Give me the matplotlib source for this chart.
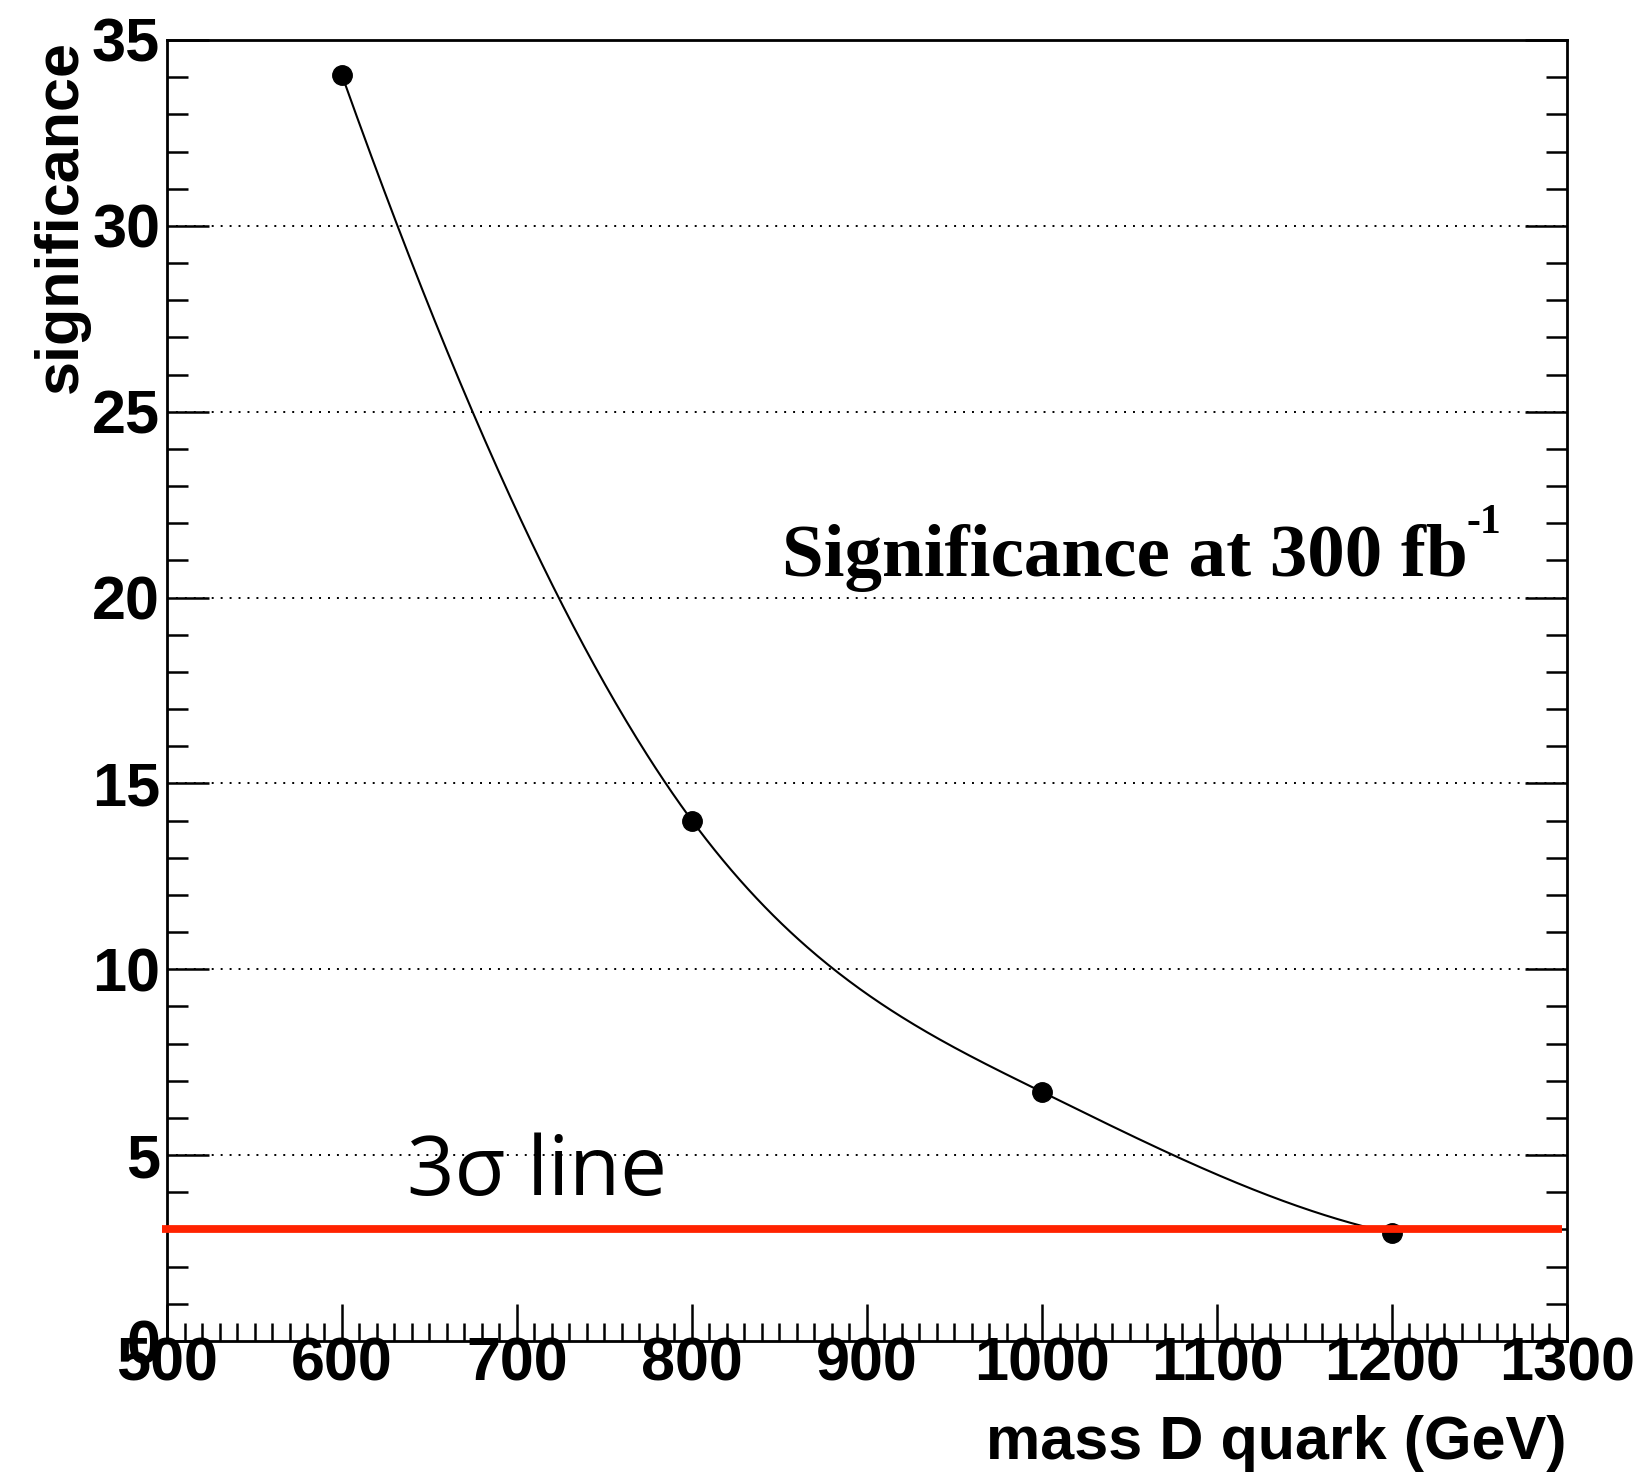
import numpy as np
import matplotlib
matplotlib.use("Agg")
import matplotlib.pyplot as plt
from matplotlib.ticker import MultipleLocator

# ---- data ----
mass = [600, 800, 1000, 1200]
significance = [34.05, 14.0, 6.7, 2.9]
sigma_level = 3.0
x_ticks = [500, 600, 700, 800, 900, 1000, 1100, 1200, 1300]
y_ticks = [0, 5, 10, 15, 20, 25, 30, 35]


def smooth_curve(x, y, n=500):
    """Clamped cubic spline; end slopes taken from the parabola through the
    three end points (how the smooth 'C' curve behaves)."""
    x = np.asarray(x, float)
    y = np.asarray(y, float)
    k = len(x)
    h = np.diff(x)
    d = np.diff(y) / h
    m_start = d[0] - (d[1] - d[0]) / (x[2] - x[0]) * h[0]
    m_end = d[-1] + (d[-1] - d[-2]) / (x[-1] - x[-3]) * h[-1]
    A = np.zeros((k, k))
    b = np.zeros(k)
    A[0, 0] = 1
    b[0] = m_start
    A[-1, -1] = 1
    b[-1] = m_end
    for i in range(1, k - 1):
        A[i, i - 1] = h[i]
        A[i, i] = 2 * (h[i - 1] + h[i])
        A[i, i + 1] = h[i - 1]
        b[i] = 3 * (h[i] * d[i - 1] + h[i - 1] * d[i])
    m = np.linalg.solve(A, b)
    xs = np.linspace(x[0], x[-1], n)
    idx = np.clip(np.searchsorted(x, xs) - 1, 0, k - 2)
    hh = h[idx]
    t = (xs - x[idx]) / hh
    h00 = 2 * t**3 - 3 * t**2 + 1
    h10 = t**3 - 2 * t**2 + t
    h01 = -2 * t**3 + 3 * t**2
    h11 = t**3 - t**2
    ys = h00 * y[idx] + h10 * hh * m[idx] + h01 * y[idx + 1] + h11 * hh * m[idx + 1]
    return xs, ys


fig = plt.figure(figsize=(16.39, 14.74), dpi=100)
ax = fig.add_axes([167 / 1639, 133 / 1474, 1400 / 1639, 1301 / 1474])

ax.set_xlim(500, 1300)
ax.set_ylim(0, 35)

# grid (horizontal dotted lines at major y ticks)
for yv in y_ticks[1:-1]:
    ax.axhline(yv, color="black", linewidth=1.4, linestyle=(0, (1, 3.6)), zorder=1)

xs, ys = smooth_curve(mass, significance)
ax.plot(xs, ys, color="black", linewidth=1.5, zorder=3)
ax.plot(mass, significance, "o", color="black", markersize=14, zorder=4)

ax.hlines(sigma_level, 497, 1297, colors="#ff2200", linewidth=5.6, zorder=5,
          clip_on=False, capstyle="butt")

# ticks
ax.set_xticks(x_ticks)
ax.set_yticks(y_ticks)
ax.xaxis.set_minor_locator(MultipleLocator(10))
ax.yaxis.set_minor_locator(MultipleLocator(1))
ax.tick_params(axis="x", which="both", direction="in", top=False, bottom=True,
               width=1.8, labelsize=44, pad=-3)
ax.tick_params(axis="x", which="major", length=27)
ax.tick_params(axis="x", which="minor", length=13)
ax.tick_params(axis="y", which="both", direction="in", left=True, right=True,
               width=1.8, labelsize=44, pad=5)
ax.tick_params(axis="y", which="major", length=30)
ax.tick_params(axis="y", which="minor", length=15)
for lab in ax.get_xticklabels() + ax.get_yticklabels():
    lab.set_fontfamily("Liberation Sans")
    lab.set_fontweight("bold")
for s in ax.spines.values():
    s.set_linewidth(2.0)

ax.set_xlabel("mass D quark (GeV)", fontsize=44, fontweight="bold",
              fontfamily="Liberation Sans", loc="right")
ax.xaxis.set_label_coords(1.0, -0.057)
ax.set_ylabel("significance", fontsize=44, fontweight="bold",
              fontfamily="Liberation Sans", loc="top")
ax.yaxis.set_label_coords(-0.055, 1.0)

ax.text(851.4, 20.58, "Significance at 300 fb", fontsize=54, fontweight="bold",
        fontfamily="Liberation Serif", ha="left", va="baseline", zorder=6)
ax.text(1242.3, 21.75, "-1", fontsize=30, fontweight="bold",
        fontfamily="Liberation Serif", ha="left", va="baseline", zorder=6)
ax.text(637.1, 3.93, "3σ line", fontsize=60, fontfamily="Open Sans",
        ha="left", va="baseline", zorder=6)

fig.savefig("out.png", dpi=100)
